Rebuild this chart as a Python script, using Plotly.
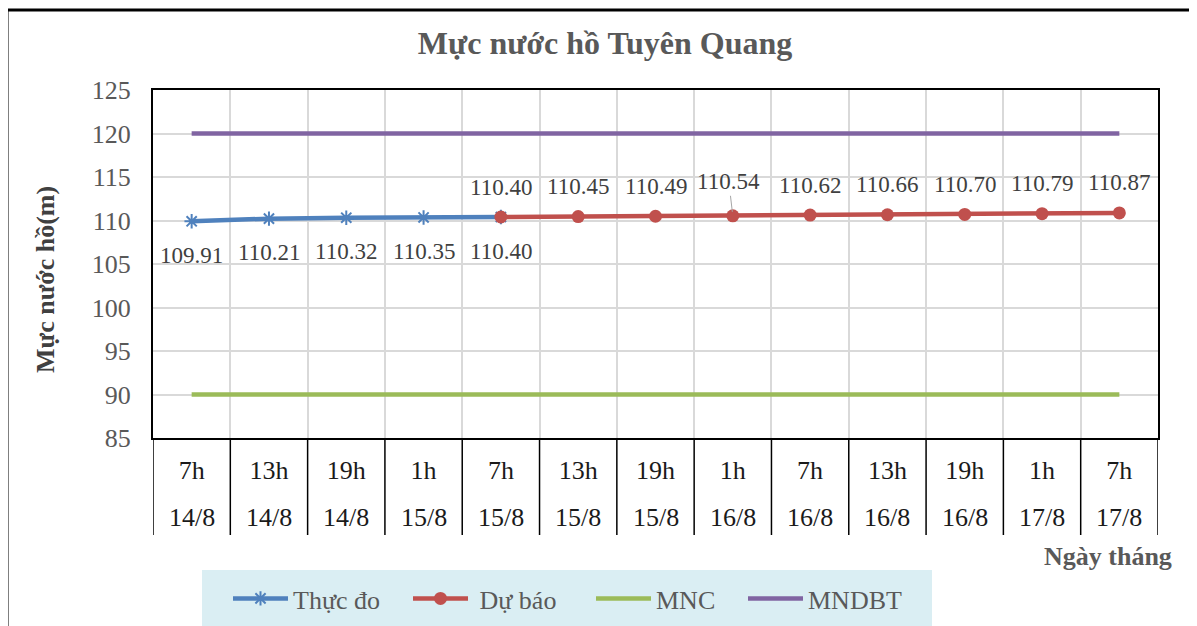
import plotly.graph_objects as go

hours = ["7h", "13h", "19h", "1h", "7h", "13h", "19h", "1h", "7h", "13h", "19h", "1h", "7h"]
dates = ["14/8", "14/8", "14/8", "15/8", "15/8", "15/8", "15/8", "16/8", "16/8", "16/8", "16/8", "17/8", "17/8"]
categories = [f"{h} {d}" for h, d in zip(hours, dates)]

thuc_do = [109.91, 110.21, 110.32, 110.35, 110.40]
du_bao = [110.40, 110.45, 110.49, 110.54, 110.62, 110.66, 110.70, 110.79, 110.87]
mnc = [90] * 13
mndbt = [120] * 13

y_ticks = [85, 90, 95, 100, 105, 110, 115, 120, 125]

FONT = "Liberation Serif"
GRAY = "#595959"
DARK = "#404040"

OFF = 8  # page body margin
W, H = 1197 - OFF, 626 - OFF
# reference pixel coordinates of the plot area
L, R, T, B = 153, 1158, 90, 438
PW, PH = R - L, B - T


def px_x(x):
    return (x - L) / PW


def px_y(y):
    return (B - y) / PH


x_thuc = categories[:len(thuc_do)]
x_du = categories[len(thuc_do) - 1:]

fig = go.Figure()
fig.add_trace(go.Scatter(
    x=x_thuc, y=thuc_do, name="Thực đo", mode="lines+markers", legend="legend", showlegend=True,
    line=dict(color="#4F81BD", width=4.5),
    marker=dict(symbol="asterisk-open", size=12, color="#4F81BD", line=dict(width=2, color="#4F81BD")),
))
fig.add_trace(go.Scatter(
    x=x_du, y=du_bao, name=" Dự báo", mode="lines+markers", legend="legend2", showlegend=True,
    line=dict(color="#C0504D", width=4.5),
    marker=dict(symbol="circle", size=13, color="#C0504D"),
))
fig.add_trace(go.Scatter(
    x=categories, y=mnc, name="MNC", mode="lines", legend="legend3", showlegend=True,
    line=dict(color="#9BBB59", width=4.5),
))
fig.add_trace(go.Scatter(
    x=categories, y=mndbt, name="MNDBT", mode="lines", legend="legend4", showlegend=True,
    line=dict(color="#8064A2", width=4.5),
))

annotations = []
for c, v in zip(x_thuc, thuc_do):
    annotations.append(dict(x=c, y=v, xref="x", yref="y", text=f"{v:.2f}", showarrow=False,
                            yshift=-34, font=dict(family=FONT, size=23, color=DARK)))
for c, v in zip(x_du, du_bao):
    if abs(v - 110.54) < 1e-9:
        annotations.append(dict(x=c, y=v, xref="x", yref="y", text=f"{v:.2f}", showarrow=True,
                                arrowhead=0, arrowwidth=1, arrowcolor="#A6A6A6", ax=-4, ay=-34,
                                standoff=4, font=dict(family=FONT, size=23, color=DARK)))
    else:
        annotations.append(dict(x=c, y=v, xref="x", yref="y", text=f"{v:.2f}", showarrow=False,
                                yshift=30, font=dict(family=FONT, size=23, color=DARK)))
for c, d in zip(categories, dates):
    annotations.append(dict(x=c, y=px_y(517), xref="x", yref="paper", text=d, showarrow=False,
                            yanchor="middle", font=dict(family=FONT, size=26, color="#1a1a1a")))
annotations.append(dict(x=px_x(45), y=px_y(280), xref="paper", yref="paper", text="<b>Mực nước hồ(m)</b>",
                        textangle=-90, showarrow=False, xanchor="center", yanchor="middle",
                        font=dict(family=FONT, size=26, color=DARK)))
annotations.append(dict(x=px_x(1108), y=px_y(556), xref="paper", yref="paper", text="<b>Ngày tháng</b>",
                        showarrow=False, xanchor="center", yanchor="middle",
                        font=dict(family=FONT, size=26, color=GRAY)))

shapes = []
for i in range(len(categories) + 1):
    shapes.append(dict(type="line", xref="x", yref="paper", x0=i - 0.5, x1=i - 0.5,
                       y0=0, y1=px_y(535), line=dict(color="black", width=1.5)))
shapes.append(dict(type="rect", xref="paper", yref="paper", x0=px_x(7), x1=px_x(1230),
                   y0=px_y(680), y1=px_y(10), line=dict(color="black", width=3), layer="below"))
shapes.append(dict(type="rect", xref="paper", yref="paper", x0=px_x(202), x1=px_x(932),
                   y0=px_y(680), y1=px_y(570), line=dict(width=0), fillcolor="#DAEEF3", layer="below"))

legend_common = dict(orientation="h", yanchor="top", xanchor="left", y=px_y(575), visible=True,
                     bgcolor="rgba(0,0,0,0)", font=dict(family=FONT, size=26, color=GRAY),
                     itemwidth=55)
legend_starts = [235, 415, 598, 750]

fig.update_layout(
    width=W, height=H, showlegend=True,
    margin=dict(l=L - OFF, r=W - (R - OFF), t=T - OFF, b=H - (B - OFF), pad=0, autoexpand=False),
    paper_bgcolor="white", plot_bgcolor="white",
    font=dict(family=FONT, size=22, color=GRAY),
    title=dict(text="<b>Mực nước hồ Tuyên Quang</b>", x=(605 - OFF) / W, xanchor="center",
               y=1 - (43 - OFF) / H, yanchor="middle", xref="container", yref="container",
               font=dict(family=FONT, size=32, color=GRAY)),
    xaxis=dict(type="category", categoryorder="array", categoryarray=categories,
               tickvals=categories, ticktext=hours, tickson="boundaries",
               showgrid=True, gridcolor="#D9D9D9", gridwidth=2,
               showline=True, linecolor="black", linewidth=2, mirror=True,
               ticks="", ticklabelstandoff=8, tickfont=dict(family=FONT, size=26, color="#1a1a1a"),
               range=[-0.5, len(categories) - 0.5]),
    yaxis=dict(range=[85, 125], tickvals=y_ticks, showgrid=True, gridcolor="#D9D9D9", gridwidth=2,
               showline=True, linecolor="black", linewidth=2, mirror=True, zeroline=False,
               ticks="", ticklabelstandoff=15, tickfont=dict(family=FONT, size=26, color=GRAY)),
    legend=dict(legend_common, x=px_x(legend_starts[0] - 7)),
    legend2=dict(legend_common, x=px_x(legend_starts[1] - 7)),
    legend3=dict(legend_common, x=px_x(legend_starts[2] - 7)),
    legend4=dict(legend_common, x=px_x(legend_starts[3] - 7)),
    annotations=annotations,
    shapes=shapes,
)

fig.write_html("out.html")
